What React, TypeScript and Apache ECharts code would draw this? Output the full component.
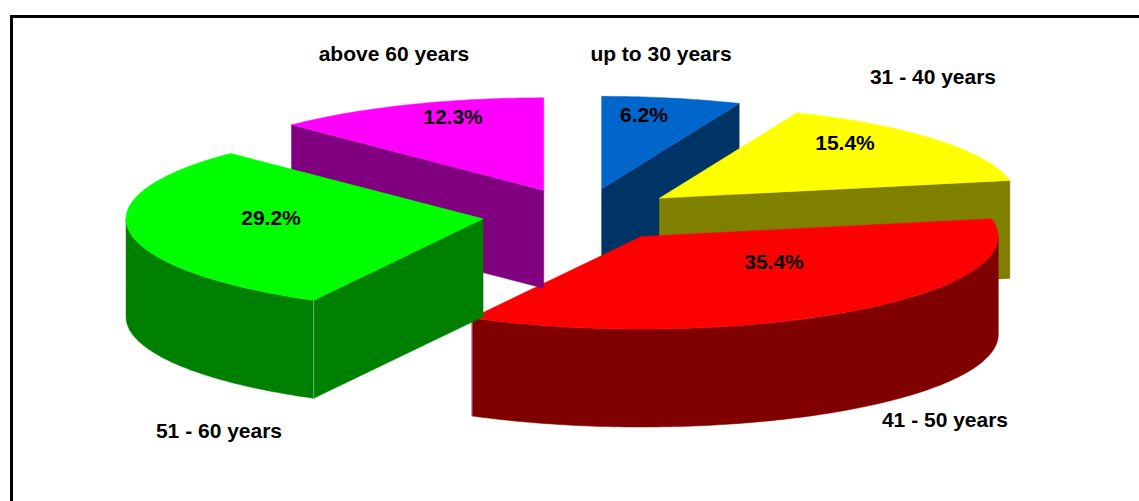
import React, { useEffect, useRef } from "react";
import * as echarts from "echarts";

const categories = ["up to 30 years", "31 - 40 years", "41 - 50 years", "51 - 60 years", "above 60 years"];
const shares = [6.2, 15.4, 35.4, 29.2, 12.3];
const topColors = ["#0066CC", "#FFFF00", "#FF0000", "#00FF00", "#FF00FF"];
const sideColors = ["#003366", "#808000", "#800000", "#008000", "#800080"];
const seamColors = ["#8fa3b8", "#c8c880", "#c89a9a", "#6fae6f", "#c49ac4"];
const drawOrder = [0, 1, 2, 4, 3];

const CX = 582, CY = 215, RX = 357, RY = 92.5, DEPTH = 98, EXPLODE_X = 100, EXPLODE_Y = 26.7;
const percentPos = [[644, 114], [845, 142], [774, 261], [271, 217], [453, 116]];
const categoryPos = [[661, 53], [933, 76], [945, 419], [219, 430], [394, 53]];
const FONT = 'bold 21px "Liberation Sans", Arial, sans-serif';

const total = shares.reduce((a, b) => a + b, 0);
const rad = (deg: number) => (deg * Math.PI) / 180;

function renderItem(params: any, api: any) {
  const i = params.dataIndex;
  const value = api.value(0);
  const before = shares.slice(0, i).reduce((a, b) => a + b, 0);
  const a0 = (before / total) * 360;
  const a1 = a0 + (value / total) * 360;
  const mid = rad((a0 + a1) / 2);
  const ax = CX + EXPLODE_X * Math.sin(mid);
  const ay = CY - EXPLODE_Y * Math.cos(mid);
  const pt = (deg: number, dz = 0) => [ax + RX * Math.sin(rad(deg)), ay - RY * Math.cos(rad(deg)) + dz];
  const arc = (from: number, to: number, dz = 0) => {
    const n = Math.max(2, Math.ceil(Math.abs(to - from)));
    const out: number[][] = [];
    for (let k = 0; k <= n; k++) out.push(pt(from + ((to - from) * k) / n, dz));
    return out;
  };
  const side = sideColors[i];
  const z2 = drawOrder[i] * 10;
  const children: any[] = [];
  const poly = (points: number[][], fill: string, z: number) =>
    children.push({ type: "polygon", z2: z, shape: { points }, style: { fill, stroke: fill, lineWidth: 0.5 } });
  const seam = (deg: number) => {
    const p = pt(deg);
    children.push({
      type: "line", z2: z2 + 2,
      shape: { x1: p[0], y1: p[1], x2: p[0], y2: p[1] + DEPTH },
      style: { stroke: seamColors[i], lineWidth: 1 },
    });
  };
  const apex = [ax, ay];
  const apexLow = [ax, ay + DEPTH];
  const sinA0 = Math.sin(rad(a0));
  const sinA1 = Math.sin(rad(a1));
  if (sinA0 < -1e-6) {
    const p = pt(a0);
    poly([apex, p, pt(a0, DEPTH), apexLow], side, z2);
  }
  if (sinA1 > 1e-6) {
    const p = pt(a1);
    poly([apex, p, pt(a1, DEPTH), apexLow], side, z2);
  }
  const w0 = Math.max(a0, 90);
  const w1 = Math.min(a1, 270);
  if (w1 > w0) {
    poly([...arc(w0, w1), ...arc(w1, w0, DEPTH)], side, z2 + 1);
    if (w0 === a0) seam(a0);
    if (w1 === a1) seam(a1);
  }
  poly([apex, ...arc(a0, a1)], topColors[i], z2 + 3);
  const pctText = value.toFixed(1) + "%";
  children.push({
    type: "text", z2: 100,
    style: {
      text: pctText, x: percentPos[i][0], y: percentPos[i][1],
      font: FONT, fill: "#000", textAlign: "center", textVerticalAlign: "middle",
    },
  });
  children.push({
    type: "text", z2: 100,
    style: {
      text: categories[i], x: categoryPos[i][0], y: categoryPos[i][1],
      font: FONT, fill: "#000", textAlign: "center", textVerticalAlign: "middle",
    },
  });
  return { type: "group", children };
}

export default function App() {
  const ref = useRef<HTMLDivElement>(null);
  useEffect(() => {
    const chart = echarts.init(ref.current!, undefined, { renderer: "svg" });
    chart.setOption({
      animation: false,
      backgroundColor: "#fff",
      graphic: [
        {
          type: "rect", z: -1, silent: true,
          shape: { x: 11.5, y: 16.5, width: 1200, height: 600 },
          style: { fill: "none", stroke: "#000", lineWidth: 3 },
        },
      ],
      series: [
        {
          type: "custom",
          coordinateSystem: "none",
          renderItem,
          data: shares.map((v, i) => ({ name: categories[i], value: [v] })),
        },
      ],
    });
    return () => chart.dispose();
  }, []);
  return <div ref={ref} style={{ position: "fixed", left: 0, top: 0, width: 1139, height: 501 }} />;
}
